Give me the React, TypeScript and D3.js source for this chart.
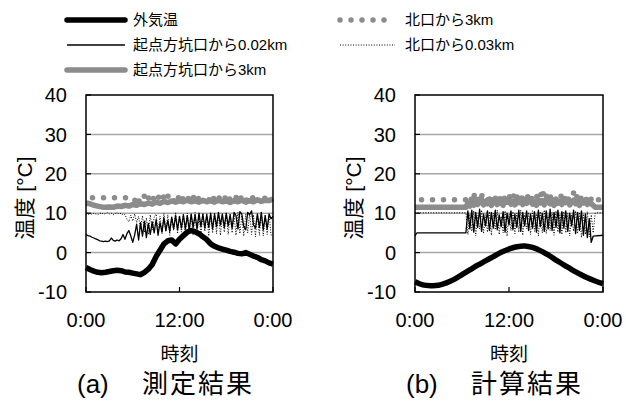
import React from 'react';
import * as d3 from 'd3';

type P = [number, number];
// assign times (hours) to values read at a regular sampling step
const at = (t0: number, step: number, vals: number[]): P[] => vals.map((v, i) => [t0 + i * step, v] as P);

const hourTicks = [0, 12, 24];
const hourLabels = ['0:00', '12:00', '0:00'];
const tempTicks = [-10, 0, 10, 20, 30, 40];
const gridTicks = [0, 10, 20, 30];
const seriesNames = ['外気温', '起点方坑口から0.02km', '起点方坑口から3km', '北口から3km', '北口から0.03km'];
const panelLabels = ['(a)', '(b)'];
const panelTitles = ['測定結果', '計算結果'];
const xTitle = '時刻';
const yTitle = '温度 [°C]';

// ---------- (a) measured ----------
const aOutside: P[] = at(0, 0.5, [
  -3.8, -4.3, -4.7, -5.0, -5.1, -5.0, -4.8, -4.6, -4.5, -4.6, -4.9, -5.0, -5.2, -5.4, -5.6, -5.0,
  -4.2, -3.0, -1.0, 0.6, 2.2, 3.0, 3.2, 2.2, 3.4, 4.3, 5.2, 5.6, 5.3, 4.8, 4.0, 3.3, 2.2, 1.6,
  1.2, 0.9, 0.6, 0.3, 0.1, -0.2, -0.3, 0.0, -0.4, -0.9, -1.2, -1.8, -2.1, -2.6, -2.9,
]);
const aInner02: P[] = at(0, 0.25, [
  4.6, 4.3, 4.2, 3.9, 3.7, 3.5, 3.3, 3.0, 2.9, 2.8, 2.9, 2.8, 3.0, 3.7, 3.1, 2.9, 3.2, 3.0, 3.5, 4.6,
  3.4, 4.8, 5.6, 4.2, 2.6, 4.5, 7.2, 3.2, 7.6, 4.2, 8.0, 3.8, 7.4, 4.6, 7.8, 5.0, 8.4, 4.4, 7.6, 5.2,
  8.8, 5.6, 8.2, 5.4, 9.0, 6.0, 9.4, 5.8, 9.2, 6.2, 9.6, 6.0, 9.4, 5.6, 9.8, 6.4, 9.6, 6.0, 10.0, 6.6,
  9.8, 6.2, 9.6, 6.4, 10.0, 6.0, 9.8, 6.6, 10.2, 7.0, 9.8, 6.4, 10.0, 6.8, 9.6, 6.2, 10.2, 9.4, 6.0, 10.4,
  9.8, 6.6, 5.8, 10.2, 9.6, 10.6, 7.0, 6.2, 9.8, 6.4, 10.2, 5.8, 9.4, 6.0, 9.8, 8.6, 9.2,
]);
const aPortal3: P[] = at(0, 0.5, [
  12.6, 12.4, 12.0, 11.8, 11.6, 11.5, 11.6, 11.5, 11.8, 11.7, 12.0, 11.8, 12.2, 12.0, 12.4, 12.2,
  12.6, 12.3, 12.8, 12.5, 13.0, 12.7, 13.1, 12.8, 13.2, 12.9, 13.3, 12.9, 13.2, 12.8, 13.3, 12.9,
  13.2, 12.8, 13.3, 12.9, 13.1, 12.7, 13.2, 12.9, 13.3, 12.8, 13.2, 12.9, 13.4, 13.0, 13.3, 13.2, 13.6,
]);
const aNorth3: P[] = [
  [0, 13.9], [6, 13.9],
  ...at(6.25, 0.25, [
    13.2, 14.2, 12.8, 14.0, 13.4, 14.4, 12.9, 13.8, 14.3, 13.0, 14.1, 13.5, 14.5, 12.9, 13.9, 14.2,
    13.1, 14.4, 13.6, 14.0, 13.0, 14.3, 13.4, 14.6, 13.2, 13.8, 14.1, 13.0, 14.4, 13.5, 14.2, 12.9,
    14.0, 13.6, 14.5, 13.1, 13.9, 14.3, 13.3, 14.1, 13.0, 14.4, 13.6, 14.2, 13.2, 14.0, 13.5, 14.5,
    13.1, 13.8, 14.3, 13.4, 14.0, 13.0, 14.2, 13.6, 14.4, 13.2, 13.9, 14.1, 13.3, 14.3, 13.7, 14.0,
    13.2, 14.4, 13.5, 13.9, 14.2, 13.8, 14.0, 13.6,
  ]),
];
const aNorth003: P[] = at(0, 0.25, [
  9.8, 9.6, 9.9, 9.7, 10.0, 9.8, 9.6, 9.9, 10.1, 9.7, 9.9, 10.2, 9.8, 10.0, 9.6, 9.9, 10.1, 9.8, 10.0, 9.5,
  9.7, 8.5, 7.8, 9.5, 8.0, 9.8, 7.6, 9.2, 6.0, 9.4, 5.2, 8.8, 4.6, 9.6, 5.8, 9.0,
  9.8, 5.0, 9.2, 4.8, 10.0, 5.4, 9.6, 4.4, 9.0, 5.6, 10.2, 4.8, 9.4, 5.2, 9.8, 4.6, 10.0, 5.8, 9.6, 4.4,
  10.2, 5.0, 9.4, 4.6, 9.8, 5.4, 10.0, 4.2, 9.6, 5.0, 10.2, 4.8, 9.8, 4.4, 9.4, 5.2, 10.0, 4.6, 9.8, 5.0,
  9.6, 4.4, 10.2, 4.8, 9.4, 4.2, 9.8, 5.0, 10.0, 4.6, 9.6, 4.0, 9.8, 4.4, 10.2, 4.2, 9.6, 4.6, 9.8, 4.4, 4.6,
]);

// ---------- (b) computed ----------
const bOutside: P[] = at(0, 1, [
  -7.4, -8.2, -8.4, -8.3, -7.7, -6.8, -5.6, -4.4, -3.2, -2.1, -1.0, 0.1, 0.9, 1.5, 1.7, 1.3, 0.5,
  -0.6, -1.9, -3.1, -4.3, -5.4, -6.4, -7.2, -7.9,
]);
const bInner02: P[] = [
  [0, 4.3], [0.25, 5.0], [6.5, 5.0],
  ...at(6.75, 0.25, [
    10.6, 6.0, 10.8, 5.2, 10.2, 6.4, 11.0, 5.4, 9.8, 6.8, 10.6, 5.6, 10.2, 6.2, 10.8, 5.8, 9.6, 6.6, 10.4, 5.2,
    10.0, 7.0, 10.6, 5.8, 9.8, 6.4, 10.8, 5.4, 10.2, 6.8, 10.6, 5.6, 9.8, 6.2, 10.4, 5.2, 10.8, 6.6, 10.0, 5.4,
    10.6, 6.0, 11.0, 5.6, 10.2, 6.4, 10.8, 5.0, 10.4, 6.2, 10.6, 5.4, 10.0, 6.8, 10.8, 4.8, 10.2, 5.6, 10.6, 4.4,
    9.8, 3.8, 8.6,
  ]),
  [22.5, 2.6], [22.75, 4.2], [24, 4.4],
];
const bPortal3: P[] = [
  [0, 11.5], [6.5, 11.5],
  ...at(6.75, 0.25, [
    12.6, 11.8, 13.2, 12.0, 13.4, 12.2, 12.8, 13.5, 12.1, 13.0, 12.4, 13.6, 12.0, 12.9, 13.3, 12.2, 13.5, 12.6,
    12.0, 13.2, 12.8, 13.6, 12.3, 13.0, 12.1, 13.4, 12.7, 13.1, 12.2, 13.5, 12.5, 12.9, 13.6, 12.3, 13.0, 12.0,
    13.4, 12.6, 13.2, 12.1, 13.5, 12.8, 12.4, 13.3, 12.0, 13.6, 12.5, 13.0, 12.2, 13.4, 12.7, 13.5, 12.1, 12.9,
    13.3, 12.4, 13.6, 12.0, 13.1, 12.6, 13.4, 12.2, 12.9, 12.4, 12.0,
  ]),
  [23, 11.5], [24, 11.5],
];
const bNorth3: P[] = [
  [0, 13.4], [6.5, 13.4],
  ...at(6.75, 0.25, [
    13.8, 14.6, 13.0, 14.8, 13.4, 14.2, 12.8, 14.6, 13.6, 14.0, 13.2, 14.8, 13.0, 14.4, 13.8, 14.2, 12.9, 14.6,
    13.4, 14.0, 13.2, 14.4, 13.6, 15.0, 13.0, 14.2, 13.5, 14.6, 13.1, 14.0, 13.8, 14.4, 12.9, 14.2, 13.6, 14.6,
    13.2, 14.0, 16.2, 13.4, 14.4, 13.0, 14.2, 13.7, 14.6, 13.1, 14.0, 13.6, 14.8, 13.2, 14.4, 13.0, 14.2, 13.8,
    15.2, 13.4, 14.6, 13.1, 14.0, 13.6, 14.4, 12.9, 14.2, 13.5, 14.0, 13.2, 13.6,
  ]),
  [23.5, 13.3], [23.75, 12.0], [24, 11.6],
];
const bNorth003: P[] = [
  [0, 10.1], [6.5, 10.1],
  ...at(6.75, 0.25, [
    4.6, 9.8, 5.4, 10.6, 4.2, 9.4, 6.0, 10.8, 4.8, 9.6, 5.2, 10.4, 4.4, 10.0, 5.8, 10.8, 4.6, 9.2, 5.0, 10.6,
    4.2, 9.8, 5.6, 10.4, 4.8, 10.0, 5.2, 10.8, 4.4, 9.6, 6.0, 10.2, 4.6, 10.6, 5.4, 9.8, 4.2, 10.4, 5.0, 10.8,
    4.8, 9.6, 5.6, 10.2, 4.4, 10.6, 5.2, 9.8, 4.6, 10.4, 5.0, 10.0, 4.2, 9.6, 5.4, 10.6, 4.8, 10.2, 3.8, 9.8,
    4.6, 10.4, 4.0, 9.6, 5.0, 10.0,
  ]),
  [23.25, 10.1], [24, 10.1],
];

const GRAY = '#8c8c8c';
const FONT = '"Liberation Sans", Arial, "Noto Sans CJK JP", sans-serif';

type Style = { stroke: string; width: number; dash?: string; cap?: 'round' | 'butt'; offset?: number };
const styles: Style[] = [
  { stroke: '#000', width: 5.5, cap: 'butt' },
  { stroke: '#000', width: 1.3, cap: 'butt' },
  { stroke: GRAY, width: 5.5, cap: 'butt' },
  { stroke: GRAY, width: 5.5, dash: '0 11', cap: 'round', offset: 4.5 },
  { stroke: '#000', width: 1, dash: '1 1.6', cap: 'butt' },
];

const TOP = 95;
const BOTTOM = 292;

function Panel({ left, right, idx, data }: { left: number; right: number; idx: number; data: P[][] }) {
  const x = d3.scaleLinear().domain([0, 24]).range([left, right]);
  const y = d3.scaleLinear().domain([-10, 40]).range([BOTTOM, TOP]);
  const line = d3.line<P>().x((d) => x(d[0])).y((d) => y(d[1]));
  const smooth = d3.line<P>().x((d) => x(d[0])).y((d) => y(d[1])).curve(d3.curveCatmullRom);
  const order = [2, 3, 4, 1, 0];
  const mid = (left + right) / 2;
  return (
    <g>
      {gridTicks.map((t) => (
        <line key={t} x1={left} x2={right} y1={y(t)} y2={y(t)} stroke="#a6a6a6" strokeWidth={1.5} />
      ))}
      {order.map((si) => {
        const s = styles[si];
        const gen = idx === 1 && si === 0 ? smooth : line;
        return (
          <path
            key={si}
            d={gen(data[si]) || ''}
            fill="none"
            stroke={s.stroke}
            strokeWidth={s.width}
            strokeDasharray={s.dash}
            strokeDashoffset={s.offset}
            strokeLinecap={s.cap}
            strokeLinejoin="round"
          />
        );
      })}
      <rect x={left} y={TOP} width={right - left} height={BOTTOM - TOP} fill="none" stroke="#000" strokeWidth={1.5} />
      {tempTicks.map((t) => (
        <g key={t}>
          <line x1={left} x2={left + 5} y1={y(t)} y2={y(t)} stroke="#000" strokeWidth={1.2} />
          <text x={left - 19} y={y(t)} dy="0.36em" textAnchor="end" fontSize={20} fontFamily={FONT} fill="#000">
            {t}
          </text>
        </g>
      ))}
      {hourTicks.map((h, i) => (
        <g key={i}>
          <line x1={x(h)} x2={x(h)} y1={BOTTOM} y2={BOTTOM - 5} stroke="#000" strokeWidth={1.2} />
          <text x={x(h)} y={327} textAnchor="middle" fontSize={20} fontFamily={FONT} fill="#000">
            {hourLabels[i]}
          </text>
        </g>
      ))}
      <text x={mid} y={361} textAnchor="middle" fontSize={19} fontFamily={FONT} fill="#000">
        {xTitle}
      </text>
      <text
        transform={`translate(${left - 62},198) rotate(-90)`}
        textAnchor="middle"
        dy="0.36em"
        fontSize={21}
        fontFamily={FONT}
        fill="#000"
      >
        {yTitle}
      </text>
      <text x={left - 9} y={393} fontSize={26} fontFamily={FONT} fill="#000">
        {panelLabels[idx]}
      </text>
      <text x={left + 56} y={393} fontSize={26} fontFamily={FONT} letterSpacing={2} fill="#000">
        {panelTitles[idx]}
      </text>
    </g>
  );
}

function Legend() {
  const items = [
    { si: 0, x1: 67, x2: 125, tx: 133, y: 20 },
    { si: 1, x1: 67, x2: 125, tx: 133, y: 45 },
    { si: 2, x1: 67, x2: 125, tx: 133, y: 70 },
    { si: 3, x1: 340, x2: 395, tx: 405, y: 20 },
    { si: 4, x1: 340, x2: 395, tx: 405, y: 45 },
  ];
  return (
    <g>
      {items.map((it) => {
        const s = styles[it.si];
        return (
          <g key={it.si}>
            <line
              x1={it.x1}
              x2={it.x2}
              y1={it.y}
              y2={it.y}
              stroke={s.stroke}
              strokeWidth={s.width}
              strokeDasharray={s.dash}
              strokeLinecap={it.si === 0 || it.si === 2 || it.si === 3 ? 'round' : 'butt'}
            />
            <text x={it.tx} y={it.y} dy="0.36em" fontSize={15} fontFamily={FONT} fill="#000">
              {seriesNames[it.si]}
            </text>
          </g>
        );
      })}
    </g>
  );
}

export default function App() {
  return (
    <svg width={626} height={401} viewBox="0 0 626 401" style={{ position: 'absolute', left: 0, top: 0, background: '#fff' }}>
      <rect width={626} height={401} fill="#fff" />
      <Legend />
      <Panel left={86} right={273} idx={0} data={[aOutside, aInner02, aPortal3, aNorth3, aNorth003]} />
      <Panel left={415} right={603} idx={1} data={[bOutside, bInner02, bPortal3, bNorth3, bNorth003]} />
    </svg>
  );
}
